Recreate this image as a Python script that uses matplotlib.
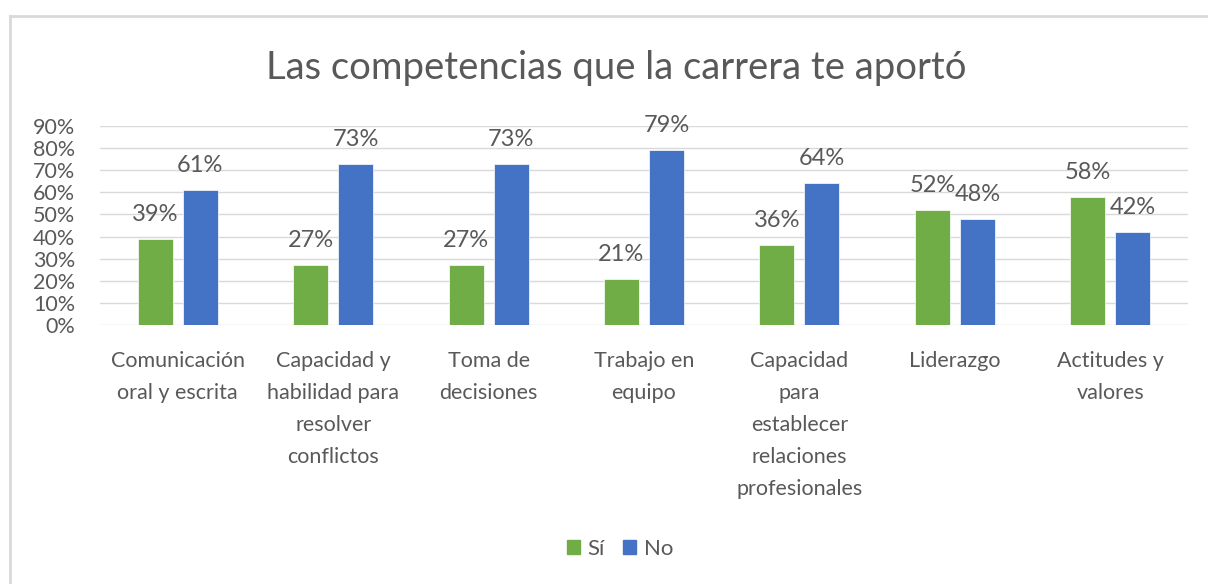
import matplotlib.pyplot as plt
from matplotlib.patches import Patch
from matplotlib.lines import Line2D
from matplotlib.ticker import FuncFormatter
import numpy as np

plt.rcParams["font.family"] = ["Lato", "DejaVu Sans"]

categorias = [
    "Comunicación\noral y escrita",
    "Capacidad y\nhabilidad para\nresolver\nconflictos",
    "Toma de\ndecisiones",
    "Trabajo en\nequipo",
    "Capacidad\npara\nestablecer\nrelaciones\nprofesionales",
    "Liderazgo",
    "Actitudes y\nvalores",
]
si = [39, 27, 27, 21, 36, 52, 58]
no = [61, 73, 73, 79, 64, 48, 42]
y_ticks = [0, 10, 20, 30, 40, 50, 60, 70, 80, 90]

verde = "#70AD47"
azul = "#4472C4"
gris_txt = "#595959"
gris_linea = "#D9D9D9"

W, H = 1208, 584
fig = plt.figure(figsize=(W / 100, H / 100), dpi=100)

# borde del área del gráfico (solo izquierda y arriba visibles)
fig.add_artist(Line2D([10 / W, 10 / W], [0, 1 - 16 / H], color=gris_linea, lw=2))
fig.add_artist(Line2D([10 / W, 1], [1 - 16 / H, 1 - 16 / H], color=gris_linea, lw=2))

ax = fig.add_axes([100 / W, 259 / H, 1088 / W, 199 / H])

x = np.arange(len(categorias))
ancho = 0.225
desp = 0.145
b1 = ax.bar(x - desp, si, ancho, color=verde, edgecolor="white", linewidth=0.5, zorder=3)
b2 = ax.bar(x + desp, no, ancho, color=azul, edgecolor="white", linewidth=0.5, zorder=3)

for barras, vals in ((b1, si), (b2, no)):
    for b, v in zip(barras, vals):
        ax.annotate(f"{v}%", (b.get_x() + b.get_width() / 2, v),
                    xytext=(0, 13), textcoords="offset points",
                    ha="center", va="baseline", fontsize=17, color=gris_txt)

ax.set_xlim(-0.5, len(categorias) - 0.5)
ax.set_ylim(0, 90)
ax.set_yticks(y_ticks)
ax.yaxis.set_major_formatter(FuncFormatter(lambda v, p: f"{v:.0f}%"))
ax.set_xticks(x)
ax.set_xticklabels(categorias, linespacing=1.75)
ax.tick_params(axis="x", length=0, labelsize=15.5, labelcolor=gris_txt, pad=18.5)
ax.tick_params(axis="y", length=0, labelsize=15.5, labelcolor=gris_txt, pad=18)
ax.grid(axis="y", color=gris_linea, lw=1, zorder=0)
for s in ax.spines.values():
    s.set_visible(False)

fig.text(616 / W, 1 - 68 / H, "Las competencias que la carrera te aportó",
         ha="center", va="center", fontsize=27.5, color=gris_txt)

handles = [Patch(color=verde, label="Sí"), Patch(color=azul, label="No")]
fig.legend(handles=handles, loc="center", bbox_to_anchor=(620 / W, 1 - 549 / H),
           ncol=2, frameon=False, fontsize=16, labelcolor=gris_txt,
           handlelength=0.6, handleheight=0.6, handletextpad=0.35, columnspacing=0.8)

fig.savefig("out.png", dpi=100, facecolor="white")
